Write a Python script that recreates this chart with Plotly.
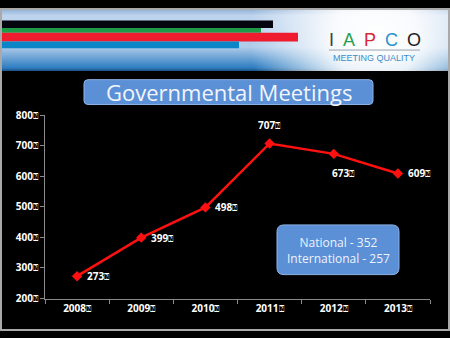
import base64
import plotly.graph_objects as go

# Chart data
years = ["2008", "2009", "2010", "2011", "2012", "2013"]
meetings = [273, 399, 498, 707, 673, 609]
y_ticks = [200, 300, 400, 500, 600, 700, 800]
label_pos = ["right", "right", "right", "above", "below", "right"]
title_text = "Governmental Meetings"
split_lines = ["National - 352", "International - 257"]

W, H = 450, 338
BOX = "\u2370"  # placeholder glyph that trails each number label
BLUE_BOX = "#5b8fd6"
FONT = "'Open Sans', 'Noto Sans', sans-serif"


def px(x):
    return x / W


def py(y):
    return 1 - y / H


def num_label(v):
    return f"<b>{v}</b><span style='font-size:9px'>{BOX}</span>"


# Header banner: vertical blue gradient with a white glow behind the logo
banner_svg = f"""<svg xmlns='http://www.w3.org/2000/svg' width='{W}' height='66' viewBox='0 0 {W} 66' preserveAspectRatio='none'>
<defs>
<linearGradient id='v' x1='0' y1='0' x2='0' y2='1'>
<stop offset='0' stop-color='#88a9d3'/>
<stop offset='0.12' stop-color='#bed4ed'/>
<stop offset='0.62' stop-color='#aecbea'/>
<stop offset='0.95' stop-color='#2d7dc1'/>
<stop offset='1' stop-color='#1d4f80'/>
</linearGradient>
<radialGradient id='g' cx='375' cy='32' r='125' gradientUnits='userSpaceOnUse'>
<stop offset='0' stop-color='#ffffff' stop-opacity='1'/>
<stop offset='0.35' stop-color='#ffffff' stop-opacity='0.9'/>
<stop offset='1' stop-color='#ffffff' stop-opacity='0'/>
</radialGradient>
</defs>
<rect width='{W}' height='66' fill='url(#v)'/>
<rect width='{W}' height='66' fill='url(#g)'/>
</svg>"""
banner_src = "data:image/svg+xml;base64," + base64.b64encode(banner_svg.encode()).decode()


def rounded_box(x0, y0, x1, y1, r):
    return ("M {a},{b} L {c},{b} Q {c2},{b} {c2},{b2} L {c2},{d2} Q {c2},{d} {c},{d} "
            "L {a},{d} Q {a2},{d} {a2},{d2} L {a2},{b2} Q {a2},{b} {a},{b} Z").format(
        a=px(x0 + r), c=px(x1 - r), a2=px(x0), c2=px(x1),
        b=py(y0), b2=py(y0 + r), d=py(y1), d2=py(y1 - r))


fig = go.Figure()

fig.add_trace(go.Scatter(
    x=years,
    y=meetings,
    mode="lines+markers",
    line=dict(color="#ff1010", width=2.5),
    marker=dict(symbol="diamond", size=8, color="#ff1010"),
    hoverinfo="skip",
    showlegend=False,
))

annotations = []

# Value labels next to each point (x given as category index)
offsets = {"right": (8, 0, "left", "middle"),
           "above": (0, 9, "center", "bottom"),
           "below": (10, -10, "center", "top")}
for i, (v, pos) in enumerate(zip(meetings, label_pos)):
    dx, dy, xa, ya = offsets[pos]
    annotations.append(dict(
        x=i, y=v, xref="x", yref="y",
        text=num_label(v),
        showarrow=False, xanchor=xa, yanchor=ya, xshift=dx, yshift=dy,
        font=dict(family=FONT, size=10, color="white"),
    ))

shapes = [
    # banner stripes
    dict(type="rect", xref="paper", yref="paper", x0=px(2), x1=px(273), y0=py(21), y1=py(13),
         fillcolor="#05050f", line_width=0, layer="above"),
    dict(type="rect", xref="paper", yref="paper", x0=px(2), x1=px(261), y0=py(26), y1=py(21),
         fillcolor="#1e9a48", line_width=0, layer="above"),
    dict(type="rect", xref="paper", yref="paper", x0=px(2), x1=px(298), y0=py(35), y1=py(26),
         fillcolor="#ee1c2e", line_width=0, layer="above"),
    dict(type="rect", xref="paper", yref="paper", x0=px(2), x1=px(239), y0=py(42), y1=py(35),
         fillcolor="#0a85c8", line_width=0, layer="above"),
    # rule under the logo
    dict(type="line", xref="paper", yref="paper", x0=px(329), x1=px(420), y0=py(44), y1=py(44),
         line=dict(color="#9aa3ad", width=1), layer="above"),
    # title box
    dict(type="path", xref="paper", yref="paper", layer="below",
         path=rounded_box(84, 75, 373, 101, 4),
         fillcolor=BLUE_BOX, line=dict(color="#8fb3e6", width=1)),
    # breakdown box
    dict(type="path", xref="paper", yref="paper", layer="below",
         path=rounded_box(277, 227, 399, 279, 7),
         fillcolor=BLUE_BOX, line=dict(color="#8fb3e6", width=1)),
    # outer frame
    dict(type="rect", xref="paper", yref="paper", x0=px(1), x1=px(449), y0=py(337), y1=py(1),
         line=dict(color="#a9a9a9", width=2), layer="above"),
]

annotations += [
    dict(x=px(228.5), y=py(88), xref="paper", yref="paper", text=title_text, showarrow=False,
         xanchor="center", yanchor="middle",
         font=dict(family=FONT, size=22, color="#f2f6fc")),
    dict(x=px(338), y=py(254), xref="paper", yref="paper", text="<br>".join(split_lines),
         showarrow=False, xanchor="center", yanchor="middle", align="center",
         font=dict(family=FONT, size=12, color="#eef3fb")),
    dict(x=px(375), y=py(33), xref="paper", yref="paper", showarrow=False,
         xanchor="center", yanchor="middle",
         text=("<span style='color:#3c3c44'>I</span>\u2002"
               "<span style='color:#27a050'>A</span>\u2002"
               "<span style='color:#d9263a'>P</span>\u2002"
               "<span style='color:#2a93cc'>C</span>\u2002"
               "<span style='color:#1e1e24'>O</span>"),
         font=dict(family="'Liberation Sans', Arial, sans-serif", size=18)),
    dict(x=px(374), y=py(52), xref="paper", yref="paper", showarrow=False,
         xanchor="center", yanchor="middle", text="MEETING QUALITY",
         font=dict(family="'Liberation Sans', Arial, sans-serif", size=9, color="#3a8cc8")),
]

fig.update_layout(
    width=W, height=H,
    autosize=False,
    margin=dict(l=0, r=0, t=0, b=0),
    paper_bgcolor="black",
    plot_bgcolor="black",
    showlegend=False,
    shapes=shapes,
    annotations=annotations,
    images=[dict(source=banner_src, xref="paper", yref="paper", x=0, y=1,
                 sizex=1, sizey=66 / H, sizing="stretch", xanchor="left", yanchor="top",
                 layer="below")],
    xaxis=dict(
        domain=[px(45), px(430)],
        type="category",
        range=[-0.5, 5.5],
        tickvals=years,
        ticktext=[num_label(y) for y in years],
        tickson="boundaries",
        ticks="outside", ticklen=4, tickcolor="#8a8a8a",
        showline=True, linecolor="#8a8a8a", linewidth=1,
        showgrid=False, zeroline=False,
        tickfont=dict(family=FONT, size=10, color="white"),
        fixedrange=True,
    ),
    yaxis=dict(
        domain=[py(304), py(112)],
        range=[200, 800],
        tickvals=y_ticks,
        ticktext=[num_label(t) for t in y_ticks],
        ticks="outside", ticklen=4, tickcolor="#8a8a8a",
        showline=True, linecolor="#8a8a8a", linewidth=1,
        showgrid=False, zeroline=False,
        tickfont=dict(family=FONT, size=10, color="white"),
        fixedrange=True,
    ),
)

fig.write_html("out.html", config={"responsive": False, "displayModeBar": False})
